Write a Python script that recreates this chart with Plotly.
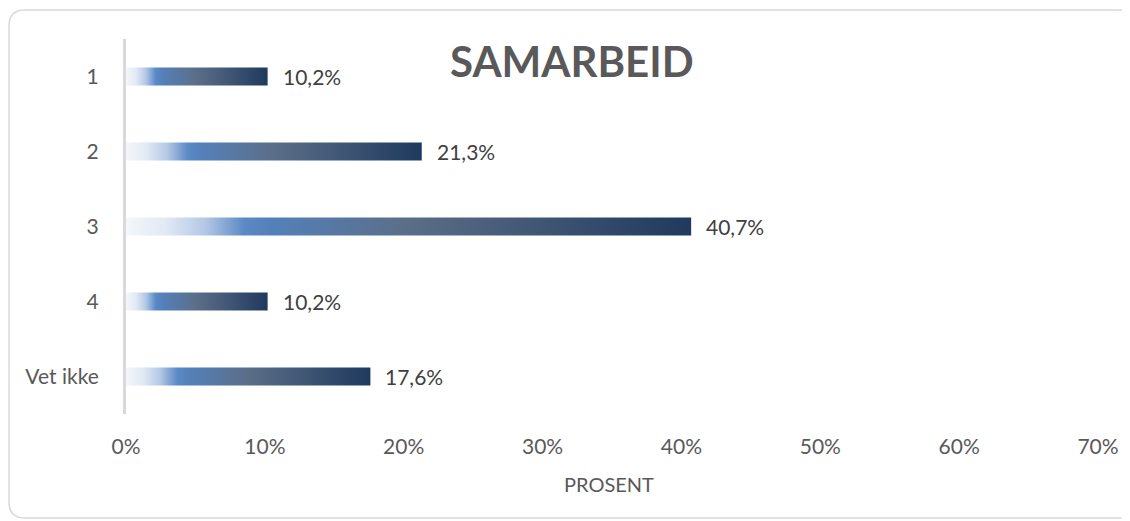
import plotly.graph_objects as go

categories = ["1", "2", "3", "4", "Vet ikke"]
values = [10.2, 21.3, 40.7, 10.2, 17.6]
x_ticks = [0, 10, 20, 30, 40, 50, 60, 70]
title_text = "SAMARBEID"
x_title = "PROSENT"

OFF = 8  # default page body margin
W, H = 1130 - OFF, 521 - OFF
ML, MR, MT, MB = 126 - OFF, 32, 39 - OFF, 107
PW = W - ML - MR
PH = H - MT - MB

def px_to_paper(px, py):
    # px, py are window pixel positions
    return ((px - OFF) - ML) / PW, (H - MB - (py - OFF)) / PH

grad = [[0.0, "#f4f7fb"], [0.07, "#e1e9f4"], [0.14, "#b3c8e5"], [0.21, "#5a89c6"],
        [0.26, "#5480b9"], [0.5, "#5b6e88"], [1.0, "#1f3a5e"]]

half = 0.12
fig = go.Figure()
for i, v in enumerate(values):
    fig.add_trace(go.Scatter(
        x=[0, v, v, 0, 0],
        y=[i - half, i - half, i + half, i + half, i - half],
        mode="lines", line=dict(width=0), fill="toself",
        fillgradient=dict(type="horizontal", colorscale=grad),
        hoverinfo="skip", showlegend=False,
    ))
    fig.add_annotation(x=v, y=i, xref="x", yref="y",
                       text=f"{v:.1f}%".replace(".", ","),
                       showarrow=False, xanchor="left", yanchor="middle", xshift=13,
                       font=dict(family="Lato", size=21, color="#404040"))

# title
tx, ty = px_to_paper(572, 60.5)
fig.add_annotation(x=tx, y=ty, xref="paper", yref="paper", text=f"<b>{title_text}</b>",
                   showarrow=False, xanchor="center", yanchor="middle",
                   font=dict(family="Lato", size=42, color="#595959"))
ax, ay = px_to_paper(609, 484)
fig.add_annotation(x=ax, y=ay, xref="paper", yref="paper", text=x_title,
                   showarrow=False, xanchor="center", yanchor="middle",
                   font=dict(family="Lato", size=20, color="#595959"))

# frame with rounded corners
x0, y0 = px_to_paper(9, 10)
x1, y1 = px_to_paper(1134, 518)
r = 16
rx = r / PW
ry = r / PH
path = (f"M {x0 + rx},{y0} L {x1 - rx},{y0} Q {x1},{y0} {x1},{y0 - ry} "
        f"L {x1},{y1 + ry} Q {x1},{y1} {x1 - rx},{y1} "
        f"L {x0 + rx},{y1} Q {x0},{y1} {x0},{y1 + ry} "
        f"L {x0},{y0 - ry} Q {x0},{y0} {x0 + rx},{y0} Z")
fig.add_shape(type="path", path=path, xref="paper", yref="paper",
              line=dict(color="#d9d9d9", width=1.5), layer="below")

fig.update_layout(
    width=W, height=H,
    margin=dict(l=ML, r=MR, t=MT, b=MB),
    paper_bgcolor="white", plot_bgcolor="white",
    font=dict(family="Lato", size=21, color="#595959"),
    xaxis=dict(range=[0, 70], tickvals=x_ticks, ticktext=[f"{t}%" for t in x_ticks],
               showgrid=False, zeroline=False, showline=False, ticks="",
               ticklabelstandoff=18, fixedrange=True),
    yaxis=dict(range=[len(categories) - 0.5, -0.5], tickvals=list(range(len(categories))),
               ticktext=categories, showgrid=False, zeroline=False,
               showline=True, linecolor="#d9d9d9", linewidth=3, ticks="",
               ticklabelstandoff=20, fixedrange=True),
    showlegend=False,
)

fig.write_html("out.html")
